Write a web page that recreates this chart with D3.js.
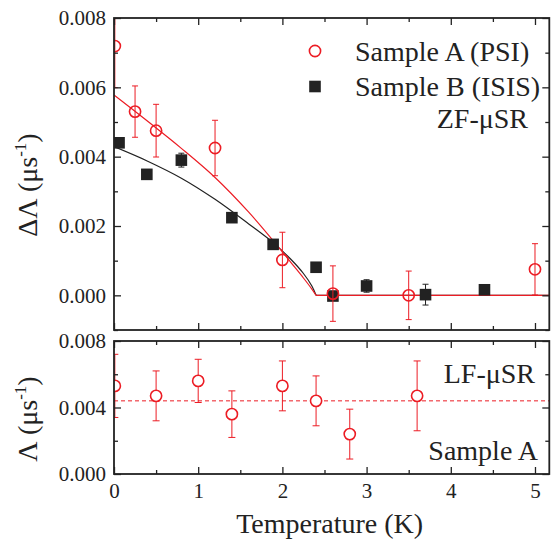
<!DOCTYPE html>
<html lang="en">
<head>
<meta charset="utf-8" />
<title>ZF / LF muSR relaxation</title>
<script src="https://cdn.jsdelivr.net/npm/d3@7"></script>
<style>
  body { margin: 0; background: #fff; }
  svg text { font-family: 'Liberation Serif', 'Times New Roman', Times, 'DejaVu Serif', serif !important; fill: #222; }
</style>
</head>
<body>
<script>
// Sample A (PSI), ZF
var tempA = [0.01, 0.25, 0.5, 1.2, 2.0, 2.6, 3.5, 5.0];
var dLamA = [0.00719, 0.0053, 0.00475, 0.00425, 0.00102, 0.00005, 0.0, 0.00075];
var errA  = [0.0012, 0.00074, 0.00076, 0.0008, 0.0008, 0.0008, 0.0007, 0.00074];

// Sample B (ISIS), ZF
var tempB = [0.06, 0.39, 0.8, 1.4, 1.89, 2.4, 2.6, 3.0, 3.7, 4.4];
var dLamB = [0.0044, 0.00349, 0.0039, 0.00224, 0.00147, 0.00081, -0.00002, 0.00027, 0.00002, 0.00016];
var errB  = [0.0001, 0.0001, 0.0002, 0.0001, 0.0001, 0.0001, 0.0001, 0.00018, 0.0003, 0.0001];

// fit curves (the last point is the flat tail above Tc)
var fitTA = [0, 0.4, 0.8, 1.2, 1.6, 1.9, 2.1, 2.25, 2.35, 2.4, 5.17];
var fitA  = [0.00578, 0.00502, 0.00424, 0.0034, 0.0024, 0.00155, 0.00095, 0.0005, 0.00018, 0.0, 0.0];
var fitTB = [0, 0.4, 0.8, 1.2, 1.6, 1.9, 2.1, 2.25, 2.35, 2.4, 5.17];
var fitB  = [0.00429, 0.00387, 0.00338, 0.00277, 0.00206, 0.0015, 0.00104, 0.00063, 0.00027, 0.0, 0.0];

// Sample A, LF
var tempLF = [0.01, 0.5, 1.0, 1.4, 2.0, 2.4, 2.8, 3.6];
var lamLF  = [0.0053, 0.0047, 0.0056, 0.0036, 0.0053, 0.0044, 0.0024, 0.0047];
var errLF  = [0.0019, 0.0015, 0.0013, 0.0014, 0.0015, 0.0015, 0.0015, 0.0021];
var lamLFmean = 0.0044;

var xTicks = [0, 1, 2, 3, 4, 5];
var xMinor = [0.5, 1.5, 2.5, 3.5, 4.5];
var y1Ticks = [0, 0.002, 0.004, 0.006, 0.008];
var y1Minor = [-0.001, 0.001, 0.003, 0.005, 0.007];
var y2Ticks = [0, 0.004, 0.008];
var y2Minor = [0.002, 0.006];

var red = "#ec1c24", dark = "#222";
var serif = "'Liberation Serif', 'Times New Roman', Times, 'DejaVu Serif', serif";
var width = 552, height = 541;
var left = 114, right = 549.3;
var top1 = 18, bot1 = 330, top2 = 341, bot2 = 474;

var svg = d3.select("body").append("svg")
    .attr("width", width)
    .attr("height", height)
    .attr("font-family", serif);

var x = d3.scaleLinear().domain([0, 5.17]).range([left, right]);
var y1 = d3.scaleLinear().domain([-0.001, 0.008]).range([bot1, top1]);
var y2 = d3.scaleLinear().domain([0, 0.008]).range([bot2, top2]);

var fmt = d3.format(".3f");

// clip paths for each panel
var defs = svg.append("defs");
defs.append("clipPath").attr("id", "c1").append("rect")
    .attr("x", left).attr("y", top1).attr("width", right - left).attr("height", bot1 - top1);
defs.append("clipPath").attr("id", "c2").append("rect")
    .attr("x", left).attr("y", top2).attr("width", right - left).attr("height", bot2 - top2);

function drawAxes(y, top, bot, major, minor, showX) {
  var g = svg.append("g");
  // left
  g.append("g").attr("transform", "translate(" + left + ",0)")
    .call(d3.axisLeft(y).tickValues(major).tickFormat(fmt).tickSizeInner(-7).tickSizeOuter(0).tickPadding(8));
  g.append("g").attr("transform", "translate(" + left + ",0)")
    .call(d3.axisLeft(y).tickValues(minor).tickFormat("").tickSizeInner(-4).tickSizeOuter(0));
  // right
  g.append("g").attr("transform", "translate(" + right + ",0)")
    .call(d3.axisRight(y).tickValues(major).tickFormat("").tickSizeInner(-7).tickSizeOuter(0));
  g.append("g").attr("transform", "translate(" + right + ",0)")
    .call(d3.axisRight(y).tickValues(minor).tickFormat("").tickSizeInner(-4).tickSizeOuter(0));
  // bottom
  g.append("g").attr("transform", "translate(0," + bot + ")")
    .call(d3.axisBottom(x).tickValues(xTicks).tickFormat(showX ? d3.format("d") : "").tickSizeInner(-7).tickSizeOuter(0).tickPadding(9));
  g.append("g").attr("transform", "translate(0," + bot + ")")
    .call(d3.axisBottom(x).tickValues(xMinor).tickFormat("").tickSizeInner(-4).tickSizeOuter(0));
  // top
  g.append("g").attr("transform", "translate(0," + top + ")")
    .call(d3.axisTop(x).tickValues(xTicks).tickFormat("").tickSizeInner(-7).tickSizeOuter(0));
  g.append("g").attr("transform", "translate(0," + top + ")")
    .call(d3.axisTop(x).tickValues(xMinor).tickFormat("").tickSizeInner(-4).tickSizeOuter(0));

  g.selectAll("g").attr("font-family", serif).attr("font-size", 21);
  g.selectAll(".domain").remove();
  g.selectAll(".tick line").attr("stroke", dark).attr("stroke-width", 1.3);
  g.selectAll("text").attr("fill", dark);

  svg.append("rect")
    .attr("x", left).attr("y", top)
    .attr("width", right - left).attr("height", bot - top)
    .attr("fill", "none").attr("stroke", dark).attr("stroke-width", 1.8);
}

// ---------- top panel (ZF) ----------
var p1 = svg.append("g").attr("clip-path", "url(#c1)");

function drawFit(ts, vs, color) {
  var pts = d3.zip(ts, vs);
  var n = pts.length;
  var curve = d3.line().x(d => x(d[0])).y(d => y1(d[1])).curve(d3.curveCatmullRom.alpha(0.5));
  var flat = d3.line().x(d => x(d[0])).y(d => y1(d[1]));
  p1.append("path").datum(pts.slice(0, n - 1))
    .attr("d", curve).attr("fill", "none").attr("stroke", color).attr("stroke-width", 1.2);
  p1.append("path").datum(pts.slice(n - 2))
    .attr("d", flat).attr("fill", "none").attr("stroke", color).attr("stroke-width", 1.2);
}
drawFit(fitTB, fitB, dark);
drawFit(fitTA, fitA, red);

function errBars(g, ts, vs, es, y, color, cap) {
  var eb = g.append("g").attr("stroke", color).attr("stroke-width", 1);
  ts.forEach(function(t, i) {
    var cx = x(t);
    eb.append("line").attr("x1", cx).attr("x2", cx)
      .attr("y1", y(vs[i] - es[i])).attr("y2", y(vs[i] + es[i]));
    [vs[i] - es[i], vs[i] + es[i]].forEach(function(v) {
      eb.append("line").attr("x1", cx - cap).attr("x2", cx + cap)
        .attr("y1", y(v)).attr("y2", y(v));
    });
  });
}

errBars(p1, tempB, dLamB, errB, y1, dark, 3);
p1.selectAll(".sqB").data(d3.zip(tempB, dLamB)).enter()
  .append("rect").attr("class", "sqB")
  .attr("x", d => x(d[0]) - 5.8).attr("y", d => y1(d[1]) - 5.8)
  .attr("width", 11.6).attr("height", 11.6)
  .attr("fill", dark);

errBars(p1, tempA, dLamA, errA, y1, red, 3);
p1.selectAll(".cA").data(d3.zip(tempA, dLamA)).enter()
  .append("circle").attr("class", "cA")
  .attr("cx", d => x(d[0])).attr("cy", d => y1(d[1])).attr("r", 5.6)
  .attr("fill", "none").attr("stroke", red).attr("stroke-width", 1.6);

// ---------- bottom panel (LF) ----------
var p2 = svg.append("g").attr("clip-path", "url(#c2)");
p2.append("line")
  .attr("x1", left).attr("x2", right)
  .attr("y1", y2(lamLFmean)).attr("y2", y2(lamLFmean))
  .attr("stroke", red).attr("stroke-width", 1).attr("stroke-dasharray", "4,3");

errBars(p2, tempLF, lamLF, errLF, y2, red, 3.5);
p2.selectAll(".cLF").data(d3.zip(tempLF, lamLF)).enter()
  .append("circle").attr("class", "cLF")
  .attr("cx", d => x(d[0])).attr("cy", d => y2(d[1])).attr("r", 5.6)
  .attr("fill", "white").attr("stroke", red).attr("stroke-width", 1.6);

drawAxes(y1, top1, bot1, y1Ticks, y1Minor, false);
drawAxes(y2, top2, bot2, y2Ticks, y2Minor, true);

// ---------- legend and labels ----------
svg.append("circle").attr("cx", 315).attr("cy", 51).attr("r", 5.6)
  .attr("fill", "white").attr("stroke", red).attr("stroke-width", 1.6);
svg.append("rect").attr("x", 315 - 5.8).attr("y", 86.5 - 5.8).attr("width", 11.6).attr("height", 11.6)
  .attr("fill", dark);

svg.append("text").attr("x", 355).attr("y", 61).attr("font-size", 28).text("Sample A (PSI)");
svg.append("text").attr("x", 355).attr("y", 95.5).attr("font-size", 28).text("Sample B (ISIS)");
svg.append("text").attr("x", 528).attr("y", 128).attr("font-size", 28).attr("text-anchor", "end").text("ZF-\u03bcSR");
svg.append("text").attr("x", 535).attr("y", 383).attr("font-size", 28).attr("text-anchor", "end").text("LF-\u03bcSR");
svg.append("text").attr("x", 538).attr("y", 460).attr("font-size", 28).attr("text-anchor", "end").text("Sample A");

svg.append("text").attr("x", (left + right) / 2 - 2).attr("y", 533)
  .attr("font-size", 28).attr("text-anchor", "middle").text("Temperature (K)");

function yTitle(cy, main) {
  var t = svg.append("text")
    .attr("transform", "translate(37," + cy + ") rotate(-90)")
    .attr("font-size", 28).attr("text-anchor", "middle");
  t.append("tspan").text(main + " (\u03bcs");
  t.append("tspan").attr("font-size", 17).attr("dy", -11).text("-1");
  t.append("tspan").attr("dy", 11).text(")");
}
yTitle(185, "\u0394\u039b");
yTitle(419, "\u039b");
</script>
</body>
</html>
